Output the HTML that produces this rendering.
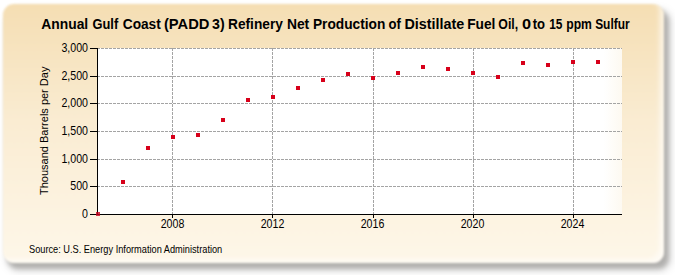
<!DOCTYPE html>
<html>
<head>
<meta charset="utf-8">
<style>
html,body{margin:0;padding:0;background:#fff;}
body{width:675px;height:275px;position:relative;overflow:hidden;font-family:"Liberation Sans",sans-serif;}
#shadow{position:absolute;left:7px;top:10px;width:662px;height:259px;border-radius:11px;background:rgba(40,35,30,0.36);filter:blur(2.8px);box-shadow:1px 1px 6px 2px rgba(0,0,0,0.10);}
#panel{position:absolute;left:3px;top:3.5px;width:661px;height:259px;border-radius:11px;
  background:linear-gradient(to bottom,#f5deb3 0%,#faecd2 45%,#fef7e9 100%);filter:blur(0.9px);
  box-shadow:inset -5px -4px 4px rgba(255,255,255,0.55);}
svg{position:absolute;left:0;top:0;}
.t{position:absolute;white-space:nowrap;color:#000;}
</style>
</head>
<body>
<div id="shadow"></div><div id="panel"></div>
<svg width="675" height="275" viewBox="0 0 675 275">
  <defs><linearGradient id="pg" x1="0" x2="1" y1="0" y2="0"><stop offset="0" stop-color="#fff"/><stop offset="0.965" stop-color="#fff"/><stop offset="1" stop-color="#fdf9f1"/></linearGradient></defs><rect x="97" y="48" width="525" height="166" fill="url(#pg)"/>
  <g stroke="#a4a4a4" stroke-width="1" stroke-dasharray="3 1" shape-rendering="crispEdges">
    <line x1="97" y1="48.5" x2="622" y2="48.5"/>
    <line x1="97" y1="76.5" x2="622" y2="76.5"/>
    <line x1="97" y1="103.5" x2="622" y2="103.5"/>
    <line x1="97" y1="131.5" x2="622" y2="131.5"/>
    <line x1="97" y1="159.5" x2="622" y2="159.5"/>
    <line x1="97" y1="186.5" x2="622" y2="186.5"/>
    <line x1="172.5" y1="48" x2="172.5" y2="214"/>
    <line x1="272.5" y1="48" x2="272.5" y2="214"/>
    <line x1="373.5" y1="48" x2="373.5" y2="214"/>
    <line x1="473.5" y1="48" x2="473.5" y2="214"/>
    <line x1="573.5" y1="48" x2="573.5" y2="214"/>
  </g>
  <g stroke="#000" stroke-width="1" shape-rendering="crispEdges">
    <line x1="97.5" y1="48" x2="97.5" y2="215"/>
    <line x1="97" y1="214.5" x2="622" y2="214.5"/>
    <line x1="90" y1="48.5" x2="97" y2="48.5"/>
    <line x1="90" y1="76.5" x2="97" y2="76.5"/>
    <line x1="90" y1="103.5" x2="97" y2="103.5"/>
    <line x1="90" y1="131.5" x2="97" y2="131.5"/>
    <line x1="90" y1="159.5" x2="97" y2="159.5"/>
    <line x1="90" y1="186.5" x2="97" y2="186.5"/>
    <line x1="90" y1="214.5" x2="97" y2="214.5"/>
    <line x1="172.5" y1="214" x2="172.5" y2="218"/>
    <line x1="272.5" y1="214" x2="272.5" y2="218"/>
    <line x1="373.5" y1="214" x2="373.5" y2="218"/>
    <line x1="473.5" y1="214" x2="473.5" y2="218"/>
    <line x1="573.5" y1="214" x2="573.5" y2="218"/>
  </g>
  <g fill="#d7001a" id="pts"><rect x="96" y="212" width="4" height="4" fill="#c8001e" fill-opacity="0.8"/><rect x="121" y="180" width="4" height="4"/><rect x="146" y="146" width="4" height="4"/><rect x="171" y="135" width="4" height="4"/><rect x="196" y="133" width="4" height="4"/><rect x="221" y="118" width="4" height="4"/><rect x="246" y="98" width="4" height="4"/><rect x="271" y="95" width="4" height="4"/><rect x="296" y="86" width="4" height="4"/><rect x="321" y="78" width="4" height="4"/><rect x="346" y="72" width="4" height="4"/><rect x="371" y="76" width="4" height="4"/><rect x="396" y="71" width="4" height="4"/><rect x="421" y="65" width="4" height="4"/><rect x="446" y="67" width="4" height="4"/><rect x="471" y="71" width="4" height="4"/><rect x="496" y="75" width="4" height="4"/><rect x="521" y="61" width="4" height="4"/><rect x="546" y="63" width="4" height="4"/><rect x="571" y="60" width="4" height="4"/><rect x="596" y="60" width="4" height="4"/></g>
</svg>
<svg width="675" height="275" viewBox="0 0 675 275" style="font-family:'Liberation Sans',sans-serif">
<g id="title" font-size="14.2" font-weight="bold"><text x="41.32" y="29" transform="translate(41.32 0) scale(0.976 1) translate(-41.32 0)">Annual</text><text x="92.48" y="29" transform="translate(92.48 0) scale(0.907 1) translate(-92.48 0)">Gulf</text><text x="122.73" y="29" transform="translate(122.73 0) scale(0.966 1) translate(-122.73 0)">Coast</text><text x="163.97" y="29" transform="translate(163.97 0) scale(1.036 1) translate(-163.97 0)">(PADD</text><text x="212.0" y="29" transform="translate(212.0 0) scale(1.0 1) translate(-212.0 0)">3)</text><text x="228.03" y="29" transform="translate(228.03 0) scale(0.966 1) translate(-228.03 0)">Refinery</text><text x="286.92" y="29" transform="translate(286.92 0) scale(0.977 1) translate(-286.92 0)">Net</text><text x="312.93" y="29" transform="translate(312.93 0) scale(0.967 1) translate(-312.93 0)">Production</text><text x="388.47" y="29" transform="translate(388.47 0) scale(0.923 1) translate(-388.47 0)">of</text><text x="404.39" y="29" transform="translate(404.39 0) scale(1.012 1) translate(-404.39 0)">Distillate</text><text x="467.13" y="29" transform="translate(467.13 0) scale(0.97 1) translate(-467.13 0)">Fuel</text><text x="498.32" y="29" transform="translate(498.32 0) scale(0.867 1) translate(-498.32 0)">Oil,</text><text x="522.07" y="29" transform="translate(522.07 0) scale(1.15 1) translate(-522.07 0)">0</text><text x="532.77" y="29" transform="translate(532.77 0) scale(0.92 1) translate(-532.77 0)">to</text><text x="549.14" y="29" transform="translate(549.14 0) scale(0.84 1) translate(-549.14 0)">15</text><text x="566.23" y="29" transform="translate(566.23 0) scale(0.857 1) translate(-566.23 0)">ppm</text><text x="595.14" y="29" transform="translate(595.14 0) scale(0.843 1) translate(-595.14 0)">Sulfur</text></g>

<text x="88" y="52" font-size="12.5" text-anchor="end" transform="translate(88 0) scale(0.85 1) translate(-88 0)">3,000</text>
<text x="88" y="80" font-size="12.5" text-anchor="end" transform="translate(88 0) scale(0.85 1) translate(-88 0)">2,500</text>
<text x="88" y="107" font-size="12.5" text-anchor="end" transform="translate(88 0) scale(0.85 1) translate(-88 0)">2,000</text>
<text x="88" y="135" font-size="12.5" text-anchor="end" transform="translate(88 0) scale(0.85 1) translate(-88 0)">1,500</text>
<text x="88" y="163" font-size="12.5" text-anchor="end" transform="translate(88 0) scale(0.85 1) translate(-88 0)">1,000</text>
<text x="88" y="190" font-size="12.5" text-anchor="end" transform="translate(88 0) scale(0.85 1) translate(-88 0)">500</text>
<text x="88" y="218" font-size="12.5" text-anchor="end" transform="translate(88 0) scale(0.85 1) translate(-88 0)">0</text>
<text x="172.5" y="228" font-size="12.5" text-anchor="middle" transform="translate(172.5 0) scale(0.85 1) translate(-172.5 0)">2008</text>
<text x="272.5" y="228" font-size="12.5" text-anchor="middle" transform="translate(272.5 0) scale(0.85 1) translate(-272.5 0)">2012</text>
<text x="372.5" y="228" font-size="12.5" text-anchor="middle" transform="translate(372.5 0) scale(0.85 1) translate(-372.5 0)">2016</text>
<text x="472.5" y="228" font-size="12.5" text-anchor="middle" transform="translate(472.5 0) scale(0.85 1) translate(-472.5 0)">2020</text>
<text x="572.5" y="228" font-size="12.5" text-anchor="middle" transform="translate(572.5 0) scale(0.85 1) translate(-572.5 0)">2024</text>
<text x="48" y="195" font-size="11" transform="rotate(-90 48 195)">Thousand Barrels per Day</text>
<text x="29" y="253.4" font-size="10.2" transform="translate(29 0) scale(0.905 1) translate(-29 0)">Source: U.S. Energy Information Administration</text>
</svg>
</body>
</html>
